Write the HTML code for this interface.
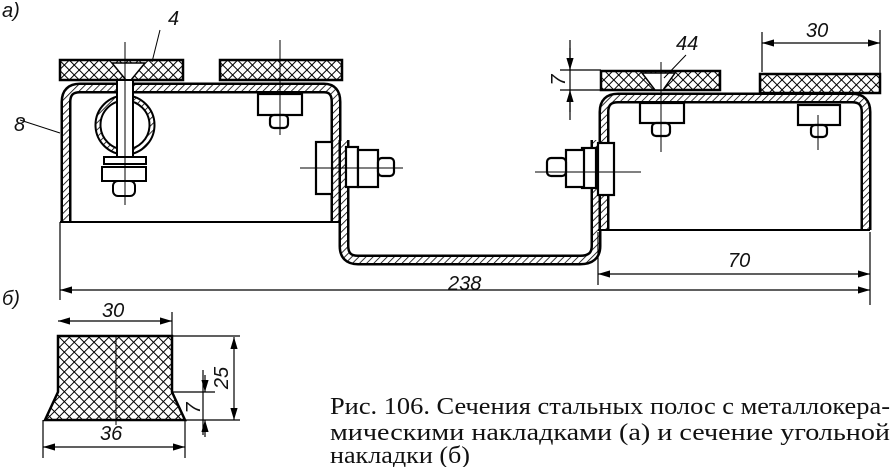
<!DOCTYPE html>
<html><head><meta charset="utf-8"><style>
html,body{margin:0;padding:0;background:#fff;}
svg{display:block}
</style></head><body>
<svg width="892" height="467" viewBox="0 0 892 467" xmlns="http://www.w3.org/2000/svg">
<defs>
<pattern id="x" width="7" height="7" patternUnits="userSpaceOnUse" patternTransform="rotate(45)">
<rect width="7" height="7" fill="#fff"/><path d="M0 0H7M0 0V7" stroke="#000" stroke-width="2"/></pattern>
<pattern id="h" width="5" height="5" patternUnits="userSpaceOnUse" patternTransform="rotate(45)">
<rect width="5" height="5" fill="#fff"/><path d="M0 0V5" stroke="#000" stroke-width="1.6"/></pattern>
<marker id="a" viewBox="0 0 10 6" refX="10" refY="3" markerWidth="10" markerHeight="6" orient="auto-start-reverse"><path d="M0 0L10 3L0 6z" fill="#000"/></marker>
</defs>
<g fill="none" stroke="#000">
<g stroke-linejoin="round">
<path d="M66,222 V102 Q66,88 80,88 H324 Q336,88 336,102 V222" stroke-width="11"/>
<path d="M66,222 V102 Q66,88 80,88 H324 Q336,88 336,102 V222" stroke="url(#h)" stroke-width="6"/>
<path d="M344,140 V246 Q344,260 358,260 H580 Q596,260 596,246 V140" stroke-width="11"/>
<path d="M344,140 V246 Q344,260 358,260 H580 Q596,260 596,246 V140" stroke="url(#h)" stroke-width="6"/>
<path d="M604,230 V112 Q604,98 618,98 H852 Q866,98 866,112 V230" stroke-width="11"/>
<path d="M604,230 V112 Q604,98 618,98 H852 Q866,98 866,112 V230" stroke="url(#h)" stroke-width="6"/>
</g>
<g stroke-width="2.5" fill="url(#x)">
<rect x="60" y="60" width="123" height="20"/>
<rect x="220" y="60" width="122" height="20"/>
<rect x="601" y="71" width="119" height="19"/>
<rect x="760" y="74" width="120" height="19"/>
<path d="M45,420 L58,392 V336 H172 V392 L185,420 Z"/>
</g>
<path d="M112,63 H145 L131,80 H126 Z" fill="#fff" stroke-width="1.5"/>
<path d="M642,73 H675 L663,90 H655 Z" fill="#fff" stroke-width="1.5"/>
<circle cx="125" cy="125" r="27" stroke-width="7"/>
<circle cx="125" cy="125" r="27" stroke="url(#h)" stroke-width="3"/>
<rect x="117" y="80" width="16" height="80" fill="#fff" stroke-width="2"/>
<rect x="104" y="157" width="42" height="7" fill="#fff" stroke-width="2"/>
<rect x="102" y="167" width="44" height="14" fill="#fff" stroke-width="2"/>
<rect x="113" y="181" width="22" height="15" rx="5" fill="#fff" stroke-width="2"/>
<path d="M125,42 V205" stroke-width="1"/>
<g fill="#fff" stroke-width="2.2">
<rect x="258" y="94" width="44" height="21"/><rect x="270" y="115" width="18" height="13" rx="4"/>
<rect x="640" y="103" width="44" height="20"/><rect x="652" y="123" width="18" height="13" rx="4"/>
<rect x="798" y="105" width="42" height="20"/><rect x="811" y="125" width="16" height="12" rx="4"/>
<rect x="316" y="142" width="16" height="52"/>
<rect x="346" y="147" width="12" height="40"/><rect x="358" y="150" width="20" height="37"/><rect x="378" y="158" width="16" height="18" rx="4"/>
<rect x="598" y="143" width="16" height="52"/>
<rect x="582" y="148" width="14" height="40"/><rect x="566" y="150" width="18" height="37"/><rect x="547" y="158" width="19" height="18" rx="4"/>
</g>
<g stroke-width="1">
<path d="M280,40 V135 M300,168 H403 M535,172 H641 M661,62 V152 M818,115 V150"/>
</g>
<g stroke-width="2"><path d="M60,222 H340 M598,230 H870"/></g>
<g stroke-width="1.2">
<path d="M60,222 V300 M870,232 V305 M598,232 V285 M880,30 V93 M762,32 V72 M172,312 V336 M185,420 V458 M43,420 V458 M172,336 H240 M185,420 H240 M172,392 H215 M560,70 H601 M560,90 H601 M570,40 V120 M203,370 V435"/>
<path d="M60,290 H870" marker-start="url(#a)" marker-end="url(#a)"/>
<path d="M598,274 H870" marker-start="url(#a)" marker-end="url(#a)"/>
<path d="M762,43 H880" marker-start="url(#a)" marker-end="url(#a)"/>
<path d="M58,321 H172" marker-start="url(#a)" marker-end="url(#a)"/>
<path d="M43,447 H185" marker-start="url(#a)" marker-end="url(#a)"/>
<path d="M234,337 V420" marker-start="url(#a)" marker-end="url(#a)"/>
<path d="M570,48 V70" marker-end="url(#a)"/><path d="M570,112 V90" marker-end="url(#a)"/>
<path d="M205,375 V392" marker-end="url(#a)"/><path d="M205,437 V420" marker-end="url(#a)"/>
<path d="M20,120 L60,133 M160,30 L152,62 M686,55 L664,78" stroke-width="1"/>
<path d="M116,336 V425" stroke-width="1"/>
</g>
</g>
<g font-family="Liberation Sans, sans-serif" font-style="italic" font-size="20" fill="#111">
<text x="2" y="17">a)</text>
<text x="168" y="25">4</text>
<text x="14" y="131">8</text>
<text x="676" y="50">44</text>
<text x="806" y="37">30</text>
<text x="728" y="267">70</text>
<text x="448" y="290">238</text>
<text x="2" y="305">б)</text>
<text x="102" y="317">30</text>
<text x="100" y="440">36</text>
<text transform="translate(565,80) rotate(-90)" text-anchor="middle">7</text>
<text transform="translate(228,378) rotate(-90)" text-anchor="middle">25</text>
<text transform="translate(200,408) rotate(-90)" text-anchor="middle">7</text>
</g>
<g font-family="Liberation Serif, serif" font-size="24" fill="#111">
<text x="330" y="414" textLength="560" lengthAdjust="spacingAndGlyphs">Рис. 106. Сечения стальных полос с металлокера-</text>
<text x="330" y="440" textLength="560" lengthAdjust="spacingAndGlyphs">мическими накладками (а) и сечение угольной</text>
<text x="330" y="463" textLength="140" lengthAdjust="spacingAndGlyphs">накладки (б)</text>
</g>
</svg>
</body></html>
